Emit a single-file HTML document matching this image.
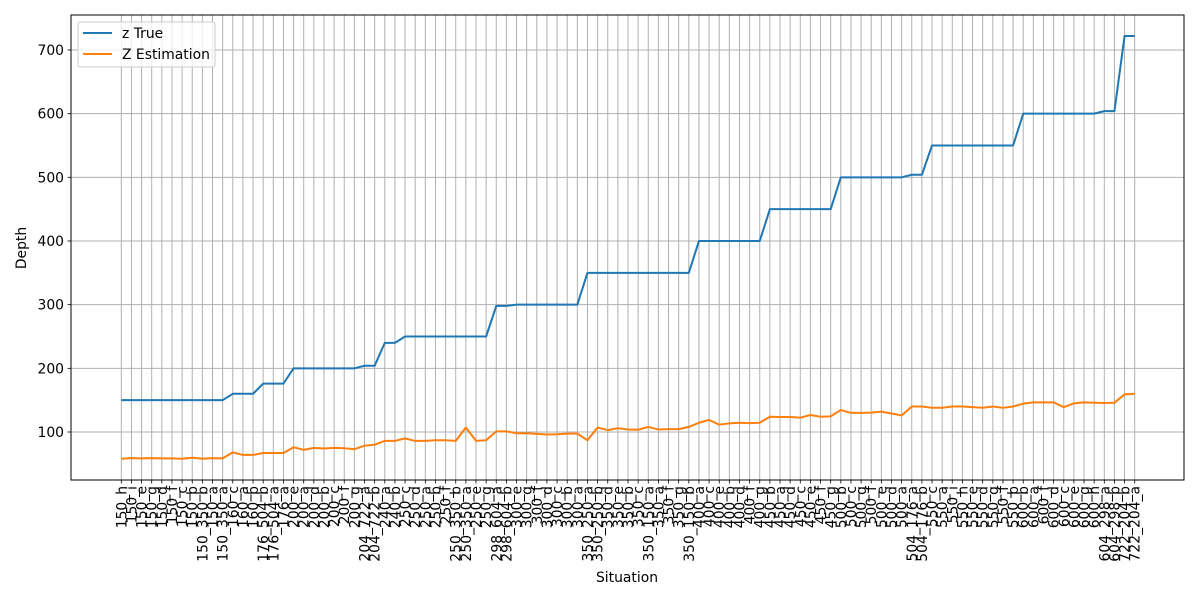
<!DOCTYPE html>
<html><head><meta charset="utf-8"><style>
body{margin:0;background:#fff;}
svg text{font-family:"DejaVu Sans","Liberation Sans",sans-serif;}
</style></head><body>
<svg id="chart" width="1200" height="600" xmlns="http://www.w3.org/2000/svg">
<rect width="1200" height="600" fill="#fff"/>
<g id="grid"></g>
<g id="xticks"></g>
<g id="yticks"></g>
<g id="series"></g>
<rect x="71" y="15" width="1113" height="465" fill="none" stroke="#000" stroke-width="1"/>
<text x="627" y="582" font-size="13.9" text-anchor="middle">Situation</text>
<text transform="translate(26,248) rotate(-90)" font-size="13.9" text-anchor="middle">Depth</text>
<g>
<rect x="78" y="22" width="137" height="45" rx="2" fill="#fff" fill-opacity="0.8" stroke="#ccc"/>
<line x1="83" y1="33" x2="112" y2="33" stroke="#1f77b4" stroke-width="2"/>
<text x="122" y="38" font-size="13.9">z True</text>
<line x1="83" y1="54" x2="112" y2="54" stroke="#ff7f0e" stroke-width="2"/>
<text x="122" y="59" font-size="13.9">Z Estimation</text>
</g>
</svg>
<script>
const categories = ["150_h","150_i","150_e","150_g","150_d","150_f","150_c","150_b","150_350_b","150_a","150_350_a",
"160_c","160_a","160_b","176_504_b","176_504_a","176_a",
"200_e","200_a","200_d","200_b","200_c","200_f","200_g",
"204_722_a","204_722_b","240_a","240_b",
"250_c","250_d","250_a","250_b","250_f","250_350_b","250_350_a","250_e","250_g",
"298_604_a","298_604_b",
"300_e","300_g","300_f","300_d","300_c","300_b","300_a",
"350_250_a","350_250_b","350_d","350_e","350_b","350_c","350_150_a","350_a","350_f","350_g","350_150_b",
"400_a","400_c","400_e","400_b","400_d","400_f","400_g",
"450_b","450_a","450_d","450_c","450_e","450_f","450_g",
"500_b","500_c","500_g","500_f","500_e","500_d","500_a",
"504_176_a","504_176_b",
"550_c","550_a","550_i","550_h","550_e","550_d","550_g","550_f","550_b",
"600_b","600_a","600_f","600_d","600_c","600_e","600_g","600_h",
"604_298_a","604_298_b","722_204_b","722_204_a"];
const zTrue = [150,150,150,150,150,150,150,150,150,150,150,
160,160,160,176,176,176,
200,200,200,200,200,200,200,
204,204,240,240,
250,250,250,250,250,250,250,250,250,
298,298,
300,300,300,300,300,300,300,
350,350,350,350,350,350,350,350,350,350,350,
400,400,400,400,400,400,400,
450,450,450,450,450,450,450,
500,500,500,500,500,500,500,
504,504,
550,550,550,550,550,550,550,550,550,
600,600,600,600,600,600,600,600,
604,604,722,722];
const zEst = [58,59,58.5,59,58.5,58.5,58,59.5,58,59,58.5,
68,64,64,67,67,67,
76,72,75,74,75,74.5,73,
78.5,80,86,86,
90,86,86,87,87,86,107,86,87,
101,101,
98,98,97,96,96.5,97.5,97.5,
87,107,103,106,104,103.5,108,104,104.5,104.5,108,
114.5,119,111.5,113.5,114.5,114,114.5,
124,123.5,123.5,122.5,126.7,124,124.5,
134.5,130,130,130.5,132,129,126,
140,140,
138,138,140,140,139,138,140,138,140,
144.5,146.5,146.5,146.5,139,145,146.5,146,
145.5,146,159,160];
const yTicks = [100,200,300,400,500,600,700];

const NS="http://www.w3.org/2000/svg";
const x0=121.3, x1=1134.7;
function xPos(i){return x0+(x1-x0)*i/(categories.length-1);}
function yPos(v){return 432-(v-100)*0.6367;}
function mk(tag,attrs,parent){const e=document.createElementNS(NS,tag);for(const k in attrs)e.setAttribute(k,attrs[k]);parent.appendChild(e);return e;}
const grid=document.getElementById('grid'),xt=document.getElementById('xticks'),yt=document.getElementById('yticks'),ser=document.getElementById('series');
categories.forEach((c,i)=>{
  const x=xPos(i);
  const g=mk('line',{x1:x,y1:15,x2:x,y2:480,stroke:'#b0b0b0','stroke-width':1},grid);
  
  
  mk('line',{x1:x,y1:480,x2:x,y2:483.5,stroke:'#000','stroke-width':0.8},xt);
  const t=mk('text',{transform:`translate(${x+5},486) rotate(-90)`,'font-size':13.9,'text-anchor':'end'},xt);
  
  
  t.textContent=c;
});
yTicks.forEach(v=>{
  const y=yPos(v);
  const g=mk('line',{x1:71,y1:y,x2:1184,y2:y,stroke:'#b0b0b0','stroke-width':1},grid);
  
  
  mk('line',{x1:67.5,y1:y,x2:71,y2:y,stroke:'#000','stroke-width':0.8},yt);
  const t=mk('text',{x:64,y:y+5,'font-size':13.9,'text-anchor':'end'},yt);
  
  
  t.textContent=v;
});
function line(arr,color,name){
  const p=mk('polyline',{points:arr.map((v,i)=>xPos(i).toFixed(2)+','+yPos(v).toFixed(2)).join(' '),fill:'none',stroke:color,'stroke-width':2,'stroke-linejoin':'round'},ser);
  
  
}
line(zTrue,'#1f77b4','z-true-line');
line(zEst,'#ff7f0e','z-estimation-line');
</script>
</body></html>
